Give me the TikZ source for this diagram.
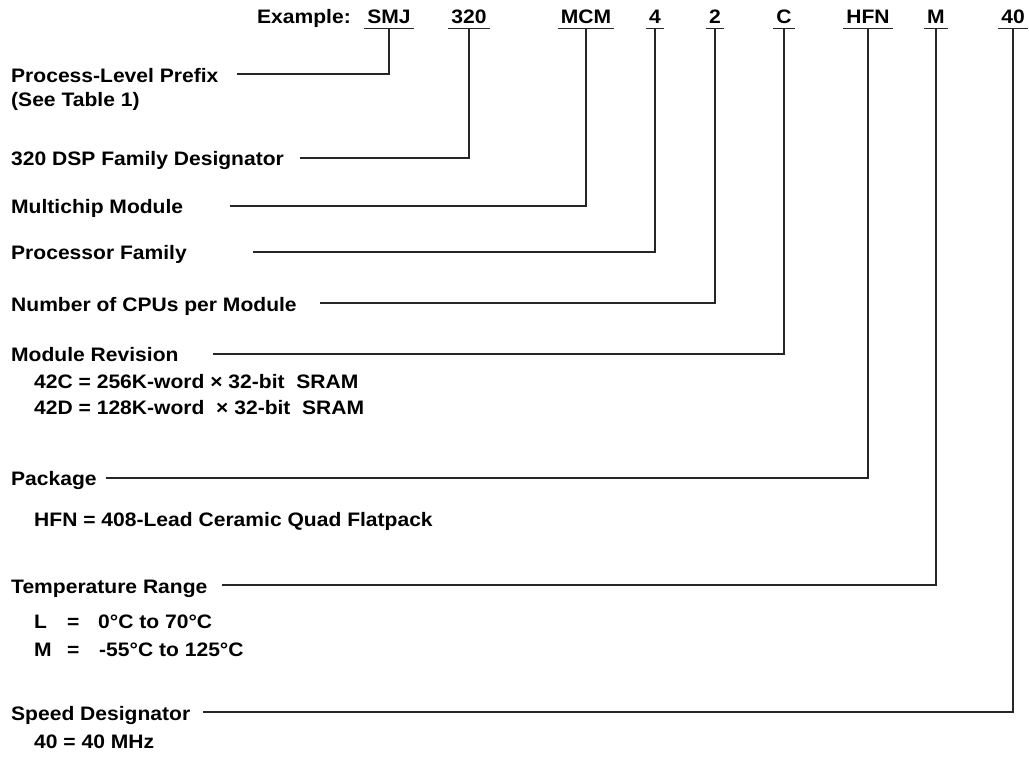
\documentclass[tikz,border=0pt]{standalone}
\usepackage{fontspec}
\setmainfont{Liberation Sans}[FakeStretch=1.08]
\begin{document}
\begin{tikzpicture}[x=1pt,y=-1pt,
  txt/.style={inner sep=0pt,font=\fontsize{19.5}{23}\selectfont\bfseries},
  code/.style={txt,anchor=base,text depth=0pt,inner xsep=3pt,inner ysep=5.5pt},
  lbl/.style={txt,anchor=base west},
  conn/.style={line width=1.2pt,color=black!85}]
\useasboundingbox (0,0) rectangle (1029,756);
% part number
\node[txt,anchor=base east] (ex) at (351,23) {Example:};
\node[code] (smj) at (389,23) {SMJ};
\node[code] (c320) at (469,23) {320};
\node[code] (mcm) at (586,23) {MCM};
\node[code] (c4) at (655,23) {4};
\node[code] (c2) at (715,23) {2};
\node[code] (cc) at (784,23) {C};
\node[code] (hfn) at (868,23) {HFN};
\node[code] (cm) at (936,23) {M};
\node[code] (c40) at (1013,23) {40};
\foreach \n in {smj,c320,mcm,c4,c2,cc,hfn,cm,c40}
  \draw[conn] (\n.south west) -- (\n.south east);
% labels
\node[lbl] (l1) at (11,82) {Process-Level Prefix};
\node[lbl] (l1b) at (11,106) {(See Table 1)};
\node[lbl] (l2) at (11,165) {320 DSP Family Designator};
\node[lbl] (l3) at (11,213) {Multichip Module};
\node[lbl] (l4) at (11,259) {Processor Family};
\node[lbl] (l5) at (11,311) {Number of CPUs per Module};
\node[lbl] (l6) at (11,361) {Module Revision};
\node[lbl] (l6a) at (34,388) {42C = 256K-word \texttimes{} 32-bit\ \ SRAM};
\node[lbl] (l6b) at (34,414) {42D = 128K-word\ \ \texttimes{} 32-bit\ \ SRAM};
\node[lbl] (l7) at (11,485) {Package};
\node[lbl] (l7a) at (34,526) {HFN = 408-Lead Ceramic Quad Flatpack};
\node[lbl] (l8) at (11,593) {Temperature Range};
\node[lbl] (l8a) at (34,628) {\makebox[33pt][l]{L}\makebox[31pt][l]{=}0°C to 70°C};
\node[lbl] (l8b) at (34,656) {\makebox[33pt][l]{M}\makebox[32pt][l]{=}-55°C to 125°C};
\node[lbl] (l9) at (11,720) {Speed Designator};
\node[lbl] (l9a) at (34,748) {40 = 40 MHz};
% connector ends
\coordinate (e1) at (237,74);
\coordinate (e2) at (300,158);
\coordinate (e3) at (230,206);
\coordinate (e4) at (253,252);
\coordinate (e5) at (320,303);
\coordinate (e6) at (213,354);
\coordinate (e7) at (106,478);
\coordinate (e8) at (222,585);
\coordinate (e9) at (203,712);
% connectors
\draw[conn] (smj.south) |- (e1);
\draw[conn] (c320.south) |- (e2);
\draw[conn] (mcm.south) |- (e3);
\draw[conn] (c4.south) |- (e4);
\draw[conn] (c2.south) |- (e5);
\draw[conn] (cc.south) |- (e6);
\draw[conn] (hfn.south) |- (e7);
\draw[conn] (cm.south) |- (e8);
\draw[conn] (c40.south) |- (e9);
\end{tikzpicture}
\end{document}
